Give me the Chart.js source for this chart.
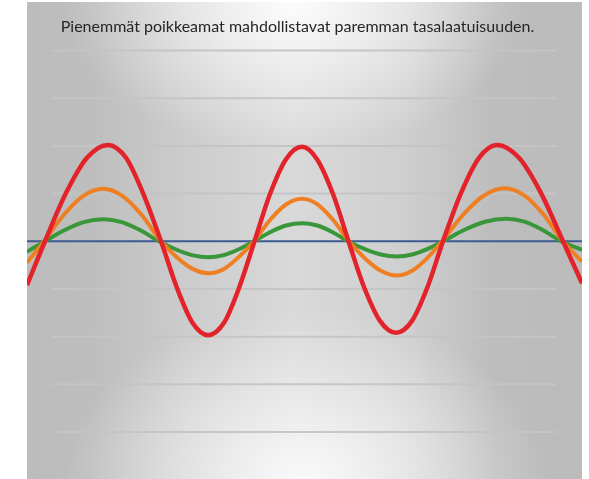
<!DOCTYPE html>
<html>
<head>
<meta charset="utf-8">
<script src="https://cdn.jsdelivr.net/npm/chart.js@4/dist/chart.umd.min.js"></script>
<style>
  html, body { margin: 0; padding: 0; background: #fff; }
  #wrap { position: relative; width: 589px; height: 479px; }
  #panel {
    position: absolute; left: 27px; top: 2px; width: 555px; height: 477px;
    background:
      radial-gradient(ellipse 230px 150px at 48% 0%, rgba(255,255,255,0.92), rgba(255,255,255,0) 100%),
      radial-gradient(ellipse 240px 170px at 50% 100%, rgba(252,250,252,0.95), rgba(255,255,255,0) 100%),
      linear-gradient(to right, #bcbcbc 0%, #bebebe 12%, #cdcdcd 30%, #d9d9d9 48%, #cfcfcf 68%, #bdbdbd 84%, #bbbbbb 100%);
  }
  canvas { position: absolute; left: 0; top: 0; }
</style>
</head>
<body>
<div id="wrap">
  <div id="panel"></div>
  <canvas id="chart" width="589" height="479"></canvas>
</div>
<script>
// x は図の左端からの距離（px 相当の単位）、y は振れ幅
const titleText = 'Pienemmät poikkeamat mahdollistavat paremman tasalaatuisuuden.';

const redX = [0, 18, 39, 60, 81, 99, 116, 134, 150, 165.5, 181, 197, 212, 227.5, 243, 259, 275, 290, 306, 321.5,
    337, 353, 369, 385, 400.5, 416, 434, 452, 470, 492, 514, 536, 555];
const redY = [-0.92, 0, 1.01, 1.75, 2.02, 1.75, 1.01, 0, -0.98, -1.71, -1.97, -1.71, -0.98, 0, 0.99, 1.72, 1.98, 1.72, 0.99, 0,
    -0.96, -1.67, -1.92, -1.67, -0.96, 0, 1.01, 1.75, 2.02, 1.75, 1.01, 0, -0.88];

const orangeX = [0, 17, 36.7, 56.3, 76, 95.3, 114.7, 134, 149.8, 165.7, 181.5, 197, 211.5, 227, 243, 259, 275, 290.8, 306.2, 322,
    338, 354, 370, 385, 400, 415, 436, 457, 478, 497.3, 516.7, 536, 555];
const orangeY = [-0.45, 0, 0.55, 0.95, 1.1, 0.95, 0.55, 0, -0.335, -0.58, -0.67, -0.58, -0.335, 0, 0.445, 0.77, 0.89, 0.77, 0.445, 0,
    -0.36, -0.62, -0.72, -0.62, -0.36, 0, 0.555, 0.96, 1.11, 0.96, 0.555, 0, -0.43];

const greenX = [0, 18, 37.3, 56.7, 76, 94.7, 113.3, 132, 148.5, 165, 181.5, 196.7, 211.8, 227, 243, 259, 275, 290.3, 305.7, 321,
    337.3, 353.7, 370, 385.3, 400.7, 416, 437, 458, 479, 497.3, 515.7, 534, 555];
const greenY = [-0.22, 0, 0.23, 0.4, 0.46, 0.4, 0.23, 0, -0.168, -0.29, -0.336, -0.29, -0.168, 0, 0.19, 0.33, 0.38, 0.33, 0.19, 0,
    -0.16, -0.277, -0.32, -0.277, -0.16, 0, 0.235, 0.41, 0.47, 0.41, 0.235, 0, -0.18];

const baseX = [0, 555];
const baseY = [0, 0];

const gridValues = [-4, -3, -2, -1, 1, 2, 3, 4];
const gridFrom = 25;
const gridTo = 529;

const colors = {
    red: '#e3232b',
    orange: '#ee7f22',
    green: '#3a9739',
    blue: '#3d5a93'
};

function toPoints(xs, ys) {
    return xs.map((x, i) => ({ x, y: ys[i] }));
}

function lineSet(xs, ys, color, width) {
    return {
        data: toPoints(xs, ys),
        borderColor: color,
        borderWidth: width,
        pointRadius: 0,
        fill: false,
        cubicInterpolationMode: 'monotone',
        // 描画エリアは左右に 7px ずらしてあるので、パネルの端で切る
        clip: { left: -7, right: 7, top: false, bottom: false }
    };
}

// 両端の短い横罫線
const shortGrid = {
    id: 'shortGrid',
    beforeDatasetsDraw(chart) {
        const { ctx, scales: { x, y } } = chart;
        const x0 = x.getPixelForValue(gridFrom);
        const x1 = x.getPixelForValue(gridTo);
        ctx.save();
        ctx.strokeStyle = 'rgba(196,196,196,0.95)';
        ctx.lineWidth = 2;
        gridValues.forEach(v => {
            const py = y.getPixelForValue(v);
            ctx.beginPath();
            ctx.moveTo(x0, py);
            ctx.lineTo(x1, py);
            ctx.stroke();
        });
        ctx.restore();
    }
};

new Chart(document.getElementById('chart'), {
    type: 'line',
    data: {
        datasets: [
            lineSet(redX, redY, colors.red, 4.5),
            lineSet(orangeX, orangeY, colors.orange, 4),
            lineSet(greenX, greenY, colors.green, 4),
            lineSet(baseX, baseY, colors.blue, 2)
        ]
    },
    options: {
        responsive: false,
        animation: false,
        layout: { padding: { left: 20, right: 14, top: 0, bottom: 47 } },
        scales: {
            x: { type: 'linear', min: -7, max: 548, display: false },
            y: { min: -4, max: 4, display: false }
        },
        plugins: {
            legend: { display: false },
            tooltip: { enabled: false },
            title: {
                display: true,
                text: titleText,
                color: '#262626',
                font: { family: 'Lato', size: 16, weight: 'normal', lineHeight: 1.2 },
                padding: { top: 17, bottom: 14.3 }
            }
        }
    },
    plugins: [shortGrid]
});
</script>
</body>
</html>
